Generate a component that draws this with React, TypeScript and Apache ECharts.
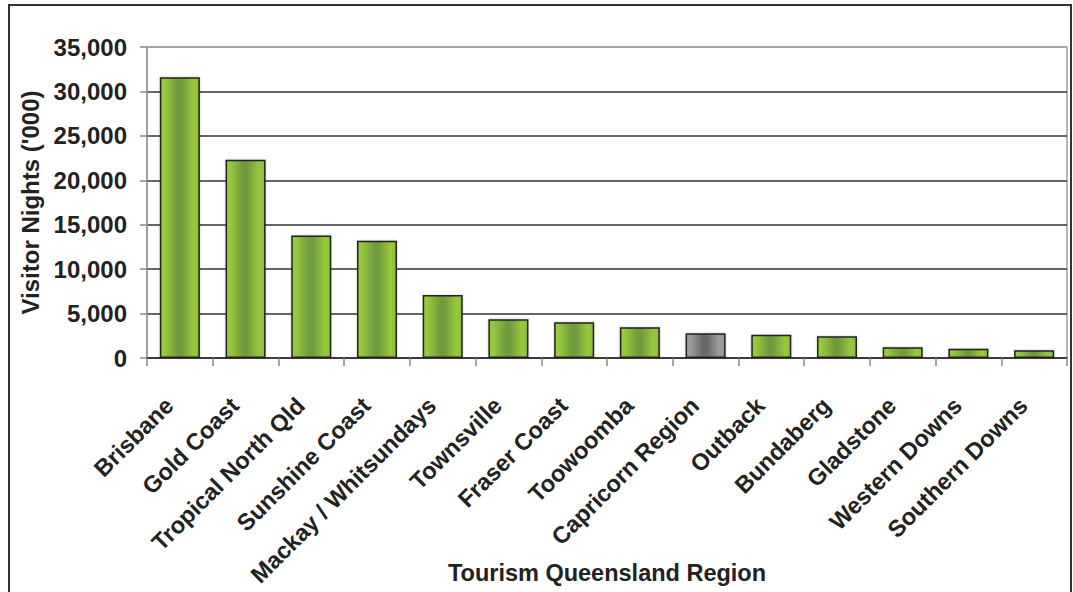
import React, { useEffect, useRef } from "react";
import * as echarts from "echarts";

const categories = [
  "Brisbane",
  "Gold Coast",
  "Tropical North Qld",
  "Sunshine Coast",
  "Mackay / Whitsundays",
  "Townsville",
  "Fraser Coast",
  "Toowoomba",
  "Capricorn Region",
  "Outback",
  "Bundaberg",
  "Gladstone",
  "Western Downs",
  "Southern Downs",
];

const visitorNights = [31600, 22300, 13800, 13200, 7100, 4350, 4020, 3450, 2780, 2620, 2440, 1200, 1050, 870];

const highlighted = ["Capricorn Region"];

const yTicks = { min: 0, max: 35000, interval: 5000 };

const xAxisTitle = "Tourism Queensland Region";
const yAxisTitle = "Visitor Nights ('000)";

const FONT = "'Liberation Sans', Arial, sans-serif";

function greenGradient() {
  return new echarts.graphic.LinearGradient(0, 0, 1, 0, [
    { offset: 0, color: "#9acb3e" },
    { offset: 0.12, color: "#95c63c" },
    { offset: 0.45, color: "#6f993e" },
    { offset: 0.55, color: "#739b3e" },
    { offset: 0.85, color: "#97c83c" },
    { offset: 1, color: "#8dbf3a" },
  ]);
}

function grayGradient() {
  return new echarts.graphic.LinearGradient(0, 0, 1, 0, [
    { offset: 0, color: "#a3a3a3" },
    { offset: 0.12, color: "#9a9a9a" },
    { offset: 0.45, color: "#666666" },
    { offset: 0.55, color: "#6a6a6a" },
    { offset: 0.85, color: "#9c9c9c" },
    { offset: 1, color: "#959595" },
  ]);
}

export default function App() {
  const ref = useRef<HTMLDivElement>(null);

  useEffect(() => {
    if (!ref.current) return;
    const chart = echarts.init(ref.current, undefined, { renderer: "svg" });

    const data = visitorNights.map((v, i) => ({
      value: v,
      itemStyle: {
        color: highlighted.includes(categories[i]) ? grayGradient() : greenGradient(),
      },
    }));

    chart.setOption({
      animation: false,
      backgroundColor: "#ffffff",
      textStyle: { fontFamily: FONT },
      graphic: [
        {
          type: "rect",
          shape: { x: 9, y: 5, width: 1062, height: 620 },
          style: { fill: "none", stroke: "#333333", lineWidth: 2 },
          silent: true,
        },
        {
          type: "text",
          x: 607,
          y: 573,
          style: {
            text: xAxisTitle,
            fontFamily: FONT,
            fontWeight: "bold",
            fontSize: 23.5,
            fill: "#222222",
            align: "center",
            verticalAlign: "middle",
          },
          silent: true,
        },
      ],
      grid: {
        left: 147,
        top: 47,
        right: 6,
        bottom: 234,
        show: true,
        borderColor: "#a0a0a0",
        borderWidth: 1.5,
        backgroundColor: "transparent",
        containLabel: false,
        outerBoundsMode: "none",
      },
      xAxis: {
        type: "category",
        data: categories,
        axisLine: { show: true, lineStyle: { color: "#333333", width: 1.5 } },
        axisTick: { show: true, length: 8, lineStyle: { color: "#888888", width: 1.5 } },
        axisLabel: {
          rotate: 45,
          margin: 33,
          padding: [0, 15, 0, 0],
          interval: 0,
          fontFamily: FONT,
          fontWeight: "bold",
          fontSize: 23.5,
          color: "#222222",
        },
      },
      yAxis: {
        type: "value",
        min: yTicks.min,
        max: yTicks.max,
        interval: yTicks.interval,
        name: yAxisTitle,
        nameLocation: "middle",
        nameGap: 103,
        nameTextStyle: { fontFamily: FONT, fontWeight: "bold", fontSize: 24, color: "#222222" },
        axisLine: { show: true, lineStyle: { color: "#999999", width: 1.5 } },
        axisTick: { show: true, length: 7, lineStyle: { color: "#888888", width: 1.5 } },
        axisLabel: {
          margin: 20,
          fontFamily: FONT,
          fontWeight: "bold",
          fontSize: 24,
          color: "#222222",
          formatter: (v: number) => v.toLocaleString("en-US"),
        },
        splitLine: {
          show: true,
          lineStyle: {
            color: ["#333333", "#333333", "#333333", "#333333", "#333333", "#333333", "#333333", "#a0a0a0"],
            width: 1.5,
          },
        },
      },
      series: [
        {
          type: "bar",
          data,
          barWidth: 40,
          itemStyle: {
            borderColor: "#222222",
            borderWidth: 1.5,
            shadowColor: "rgba(0,0,0,0.25)",
            shadowBlur: 2,
          },
        },
      ],
    });

    return () => chart.dispose();
  }, []);

  return (
    <div
      ref={ref}
      style={{ position: "fixed", left: 0, top: 0, width: 1073, height: 592, background: "#fff" }}
    />
  );
}
